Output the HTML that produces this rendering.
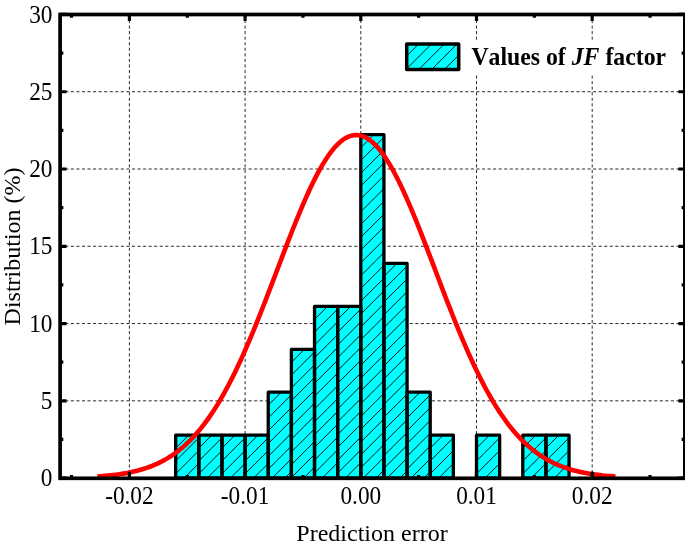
<!DOCTYPE html><html><head><meta charset="utf-8"><style>html,body{margin:0;padding:0;background:#fff;overflow:hidden}svg{display:block;will-change:transform}text{font-family:"Liberation Serif",serif;font-kerning:none}</style></head><body><svg width="685" height="549" viewBox="0 0 685 549"><rect width="685" height="549" fill="#fff"/><defs><clipPath id="bc"><rect x="175.68" y="435.14" width="23.14" height="42.96"/><rect x="198.82" y="435.14" width="23.14" height="42.96"/><rect x="221.96" y="435.14" width="23.14" height="42.96"/><rect x="245.1" y="435.14" width="23.14" height="42.96"/><rect x="268.24" y="392.17" width="23.14" height="85.93"/><rect x="291.38" y="349.36" width="23.14" height="128.74"/><rect x="314.52" y="306.39" width="23.14" height="171.71"/><rect x="337.66" y="306.39" width="23.14" height="171.71"/><rect x="360.8" y="134.69" width="23.14" height="343.41"/><rect x="383.94" y="263.43" width="23.14" height="214.67"/><rect x="407.08" y="392.17" width="23.14" height="85.93"/><rect x="430.22" y="435.14" width="23.14" height="42.96"/><rect x="476.5" y="435.14" width="23.14" height="42.96"/><rect x="522.78" y="435.14" width="23.14" height="42.96"/><rect x="545.92" y="435.14" width="23.14" height="42.96"/></clipPath><clipPath id="lc"><rect x="406.7" y="44" width="52" height="25.5"/></clipPath></defs><path d="M129.4 14.4V478.3M245.1 14.4V478.3M360.8 14.4V478.3M476.5 14.4V478.3M592.2 14.4V478.3M59.7 400.83H684.85M59.7 323.55H684.85M59.7 246.28H684.85M59.7 169H684.85M59.7 91.73H684.85" stroke="#2a2a2a" stroke-width="1" stroke-dasharray="3.1 2.456" fill="none"/><rect x="175.68" y="435.14" width="23.14" height="42.96" fill="#0ff"/><rect x="198.82" y="435.14" width="23.14" height="42.96" fill="#0ff"/><rect x="221.96" y="435.14" width="23.14" height="42.96" fill="#0ff"/><rect x="245.1" y="435.14" width="23.14" height="42.96" fill="#0ff"/><rect x="268.24" y="392.17" width="23.14" height="85.93" fill="#0ff"/><rect x="291.38" y="349.36" width="23.14" height="128.74" fill="#0ff"/><rect x="314.52" y="306.39" width="23.14" height="171.71" fill="#0ff"/><rect x="337.66" y="306.39" width="23.14" height="171.71" fill="#0ff"/><rect x="360.8" y="134.69" width="23.14" height="343.41" fill="#0ff"/><rect x="383.94" y="263.43" width="23.14" height="214.67" fill="#0ff"/><rect x="407.08" y="392.17" width="23.14" height="85.93" fill="#0ff"/><rect x="430.22" y="435.14" width="23.14" height="42.96" fill="#0ff"/><rect x="476.5" y="435.14" width="23.14" height="42.96" fill="#0ff"/><rect x="522.78" y="435.14" width="23.14" height="42.96" fill="#0ff"/><rect x="545.92" y="435.14" width="23.14" height="42.96" fill="#0ff"/><clipPath id="c0"><rect x="175.68" y="435.14" width="23.14" height="42.96"/></clipPath><path d="M173.68 424.54L200.82 397.4M173.68 437.34L200.82 410.2M173.68 450.14L200.82 423M173.68 462.94L200.82 435.8M173.68 475.74L200.82 448.6M173.68 488.54L200.82 461.4M173.68 501.34L200.82 474.2M173.68 514.14L200.82 487" stroke="#000" stroke-width="0.95" fill="none" clip-path="url(#c0)"/><clipPath id="c1"><rect x="198.82" y="435.14" width="23.14" height="42.96"/></clipPath><path d="M196.82 424.54L223.96 397.4M196.82 437.34L223.96 410.2M196.82 450.14L223.96 423M196.82 462.94L223.96 435.8M196.82 475.74L223.96 448.6M196.82 488.54L223.96 461.4M196.82 501.34L223.96 474.2M196.82 514.14L223.96 487" stroke="#000" stroke-width="0.95" fill="none" clip-path="url(#c1)"/><clipPath id="c2"><rect x="221.96" y="435.14" width="23.14" height="42.96"/></clipPath><path d="M219.96 424.54L247.1 397.4M219.96 437.34L247.1 410.2M219.96 450.14L247.1 423M219.96 462.94L247.1 435.8M219.96 475.74L247.1 448.6M219.96 488.54L247.1 461.4M219.96 501.34L247.1 474.2M219.96 514.14L247.1 487" stroke="#000" stroke-width="0.95" fill="none" clip-path="url(#c2)"/><clipPath id="c3"><rect x="245.1" y="435.14" width="23.14" height="42.96"/></clipPath><path d="M243.1 424.54L270.24 397.4M243.1 437.34L270.24 410.2M243.1 450.14L270.24 423M243.1 462.94L270.24 435.8M243.1 475.74L270.24 448.6M243.1 488.54L270.24 461.4M243.1 501.34L270.24 474.2M243.1 514.14L270.24 487" stroke="#000" stroke-width="0.95" fill="none" clip-path="url(#c3)"/><clipPath id="c4"><rect x="268.24" y="392.17" width="23.14" height="85.93"/></clipPath><path d="M266.24 381.57L293.38 354.43M266.24 394.37L293.38 367.23M266.24 407.17L293.38 380.03M266.24 419.97L293.38 392.83M266.24 432.77L293.38 405.63M266.24 445.57L293.38 418.43M266.24 458.37L293.38 431.23M266.24 471.17L293.38 444.03M266.24 483.97L293.38 456.83M266.24 496.77L293.38 469.63M266.24 509.57L293.38 482.43" stroke="#000" stroke-width="0.95" fill="none" clip-path="url(#c4)"/><clipPath id="c5"><rect x="291.38" y="349.36" width="23.14" height="128.74"/></clipPath><path d="M289.38 338.76L316.52 311.62M289.38 351.56L316.52 324.42M289.38 364.36L316.52 337.22M289.38 377.16L316.52 350.02M289.38 389.96L316.52 362.82M289.38 402.76L316.52 375.62M289.38 415.56L316.52 388.42M289.38 428.36L316.52 401.22M289.38 441.16L316.52 414.02M289.38 453.96L316.52 426.82M289.38 466.76L316.52 439.62M289.38 479.56L316.52 452.42M289.38 492.36L316.52 465.22M289.38 505.16L316.52 478.02" stroke="#000" stroke-width="0.95" fill="none" clip-path="url(#c5)"/><clipPath id="c6"><rect x="314.52" y="306.39" width="23.14" height="171.71"/></clipPath><path d="M312.52 295.79L339.66 268.65M312.52 308.59L339.66 281.45M312.52 321.39L339.66 294.25M312.52 334.19L339.66 307.05M312.52 346.99L339.66 319.85M312.52 359.79L339.66 332.65M312.52 372.59L339.66 345.45M312.52 385.39L339.66 358.25M312.52 398.19L339.66 371.05M312.52 410.99L339.66 383.85M312.52 423.79L339.66 396.65M312.52 436.59L339.66 409.45M312.52 449.39L339.66 422.25M312.52 462.19L339.66 435.05M312.52 474.99L339.66 447.85M312.52 487.79L339.66 460.65M312.52 500.59L339.66 473.45M312.52 513.39L339.66 486.25" stroke="#000" stroke-width="0.95" fill="none" clip-path="url(#c6)"/><clipPath id="c7"><rect x="337.66" y="306.39" width="23.14" height="171.71"/></clipPath><path d="M335.66 295.79L362.8 268.65M335.66 308.59L362.8 281.45M335.66 321.39L362.8 294.25M335.66 334.19L362.8 307.05M335.66 346.99L362.8 319.85M335.66 359.79L362.8 332.65M335.66 372.59L362.8 345.45M335.66 385.39L362.8 358.25M335.66 398.19L362.8 371.05M335.66 410.99L362.8 383.85M335.66 423.79L362.8 396.65M335.66 436.59L362.8 409.45M335.66 449.39L362.8 422.25M335.66 462.19L362.8 435.05M335.66 474.99L362.8 447.85M335.66 487.79L362.8 460.65M335.66 500.59L362.8 473.45M335.66 513.39L362.8 486.25" stroke="#000" stroke-width="0.95" fill="none" clip-path="url(#c7)"/><clipPath id="c8"><rect x="360.8" y="134.69" width="23.14" height="343.41"/></clipPath><path d="M358.8 124.09L385.94 96.95M358.8 136.89L385.94 109.75M358.8 149.69L385.94 122.55M358.8 162.49L385.94 135.35M358.8 175.29L385.94 148.15M358.8 188.09L385.94 160.95M358.8 200.89L385.94 173.75M358.8 213.69L385.94 186.55M358.8 226.49L385.94 199.35M358.8 239.29L385.94 212.15M358.8 252.09L385.94 224.95M358.8 264.89L385.94 237.75M358.8 277.69L385.94 250.55M358.8 290.49L385.94 263.35M358.8 303.29L385.94 276.15M358.8 316.09L385.94 288.95M358.8 328.89L385.94 301.75M358.8 341.69L385.94 314.55M358.8 354.49L385.94 327.35M358.8 367.29L385.94 340.15M358.8 380.09L385.94 352.95M358.8 392.89L385.94 365.75M358.8 405.69L385.94 378.55M358.8 418.49L385.94 391.35M358.8 431.29L385.94 404.15M358.8 444.09L385.94 416.95M358.8 456.89L385.94 429.75M358.8 469.69L385.94 442.55M358.8 482.49L385.94 455.35M358.8 495.29L385.94 468.15M358.8 508.09L385.94 480.95" stroke="#000" stroke-width="0.95" fill="none" clip-path="url(#c8)"/><clipPath id="c9"><rect x="383.94" y="263.43" width="23.14" height="214.67"/></clipPath><path d="M381.94 252.83L409.08 225.69M381.94 265.63L409.08 238.49M381.94 278.43L409.08 251.29M381.94 291.23L409.08 264.09M381.94 304.03L409.08 276.89M381.94 316.83L409.08 289.69M381.94 329.63L409.08 302.49M381.94 342.43L409.08 315.29M381.94 355.23L409.08 328.09M381.94 368.03L409.08 340.89M381.94 380.83L409.08 353.69M381.94 393.63L409.08 366.49M381.94 406.43L409.08 379.29M381.94 419.23L409.08 392.09M381.94 432.03L409.08 404.89M381.94 444.83L409.08 417.69M381.94 457.63L409.08 430.49M381.94 470.43L409.08 443.29M381.94 483.23L409.08 456.09M381.94 496.03L409.08 468.89M381.94 508.83L409.08 481.69" stroke="#000" stroke-width="0.95" fill="none" clip-path="url(#c9)"/><clipPath id="c10"><rect x="407.08" y="392.17" width="23.14" height="85.93"/></clipPath><path d="M405.08 381.57L432.22 354.43M405.08 394.37L432.22 367.23M405.08 407.17L432.22 380.03M405.08 419.97L432.22 392.83M405.08 432.77L432.22 405.63M405.08 445.57L432.22 418.43M405.08 458.37L432.22 431.23M405.08 471.17L432.22 444.03M405.08 483.97L432.22 456.83M405.08 496.77L432.22 469.63M405.08 509.57L432.22 482.43" stroke="#000" stroke-width="0.95" fill="none" clip-path="url(#c10)"/><clipPath id="c11"><rect x="430.22" y="435.14" width="23.14" height="42.96"/></clipPath><path d="M428.22 424.54L455.36 397.4M428.22 437.34L455.36 410.2M428.22 450.14L455.36 423M428.22 462.94L455.36 435.8M428.22 475.74L455.36 448.6M428.22 488.54L455.36 461.4M428.22 501.34L455.36 474.2M428.22 514.14L455.36 487" stroke="#000" stroke-width="0.95" fill="none" clip-path="url(#c11)"/><clipPath id="c12"><rect x="476.5" y="435.14" width="23.14" height="42.96"/></clipPath><path d="M474.5 424.54L501.64 397.4M474.5 437.34L501.64 410.2M474.5 450.14L501.64 423M474.5 462.94L501.64 435.8M474.5 475.74L501.64 448.6M474.5 488.54L501.64 461.4M474.5 501.34L501.64 474.2M474.5 514.14L501.64 487" stroke="#000" stroke-width="0.95" fill="none" clip-path="url(#c12)"/><clipPath id="c13"><rect x="522.78" y="435.14" width="23.14" height="42.96"/></clipPath><path d="M520.78 424.54L547.92 397.4M520.78 437.34L547.92 410.2M520.78 450.14L547.92 423M520.78 462.94L547.92 435.8M520.78 475.74L547.92 448.6M520.78 488.54L547.92 461.4M520.78 501.34L547.92 474.2M520.78 514.14L547.92 487" stroke="#000" stroke-width="0.95" fill="none" clip-path="url(#c13)"/><clipPath id="c14"><rect x="545.92" y="435.14" width="23.14" height="42.96"/></clipPath><path d="M543.92 424.54L571.06 397.4M543.92 437.34L571.06 410.2M543.92 450.14L571.06 423M543.92 462.94L571.06 435.8M543.92 475.74L571.06 448.6M543.92 488.54L571.06 461.4M543.92 501.34L571.06 474.2M543.92 514.14L571.06 487" stroke="#000" stroke-width="0.95" fill="none" clip-path="url(#c14)"/><rect x="175.68" y="435.14" width="23.14" height="42.96" fill="none" stroke="#000" stroke-width="3.3" stroke-linejoin="round"/><rect x="198.82" y="435.14" width="23.14" height="42.96" fill="none" stroke="#000" stroke-width="3.3" stroke-linejoin="round"/><rect x="221.96" y="435.14" width="23.14" height="42.96" fill="none" stroke="#000" stroke-width="3.3" stroke-linejoin="round"/><rect x="245.1" y="435.14" width="23.14" height="42.96" fill="none" stroke="#000" stroke-width="3.3" stroke-linejoin="round"/><rect x="268.24" y="392.17" width="23.14" height="85.93" fill="none" stroke="#000" stroke-width="3.3" stroke-linejoin="round"/><rect x="291.38" y="349.36" width="23.14" height="128.74" fill="none" stroke="#000" stroke-width="3.3" stroke-linejoin="round"/><rect x="314.52" y="306.39" width="23.14" height="171.71" fill="none" stroke="#000" stroke-width="3.3" stroke-linejoin="round"/><rect x="337.66" y="306.39" width="23.14" height="171.71" fill="none" stroke="#000" stroke-width="3.3" stroke-linejoin="round"/><rect x="360.8" y="134.69" width="23.14" height="343.41" fill="none" stroke="#000" stroke-width="3.3" stroke-linejoin="round"/><rect x="383.94" y="263.43" width="23.14" height="214.67" fill="none" stroke="#000" stroke-width="3.3" stroke-linejoin="round"/><rect x="407.08" y="392.17" width="23.14" height="85.93" fill="none" stroke="#000" stroke-width="3.3" stroke-linejoin="round"/><rect x="430.22" y="435.14" width="23.14" height="42.96" fill="none" stroke="#000" stroke-width="3.3" stroke-linejoin="round"/><rect x="476.5" y="435.14" width="23.14" height="42.96" fill="none" stroke="#000" stroke-width="3.3" stroke-linejoin="round"/><rect x="522.78" y="435.14" width="23.14" height="42.96" fill="none" stroke="#000" stroke-width="3.3" stroke-linejoin="round"/><rect x="545.92" y="435.14" width="23.14" height="42.96" fill="none" stroke="#000" stroke-width="3.3" stroke-linejoin="round"/><polyline points="97.35,476.49 99.94,476.31 102.53,476.11 105.12,475.89 107.71,475.65 110.3,475.39 112.89,475.1 115.48,474.78 118.08,474.43 120.67,474.06 123.26,473.64 125.85,473.19 128.44,472.71 131.03,472.17 133.62,471.6 136.21,470.97 138.8,470.3 141.39,469.56 143.98,468.77 146.57,467.92 149.16,467 151.75,466.01 154.34,464.95 156.93,463.81 159.52,462.59 162.11,461.28 164.7,459.88 167.3,458.38 169.89,456.78 172.48,455.08 175.07,453.28 177.66,451.35 180.25,449.31 182.84,447.15 185.43,444.86 188.02,442.44 190.61,439.88 193.2,437.19 195.79,434.35 198.38,431.37 200.97,428.23 203.56,424.94 206.15,421.5 208.74,417.9 211.33,414.13 213.92,410.21 216.52,406.12 219.11,401.87 221.7,397.45 224.29,392.87 226.88,388.13 229.47,383.22 232.06,378.15 234.65,372.93 237.24,367.55 239.83,362.02 242.42,356.35 245.01,350.53 247.6,344.59 250.19,338.51 252.78,332.31 255.37,326.01 257.96,319.6 260.55,313.1 263.14,306.51 265.74,299.86 268.33,293.14 270.92,286.38 273.51,279.58 276.1,272.77 278.69,265.95 281.28,259.13 283.87,252.35 286.46,245.6 289.05,238.9 291.64,232.28 294.23,225.75 296.82,219.32 299.41,213.01 302,206.84 304.59,200.82 307.18,194.98 309.77,189.32 312.36,183.87 314.96,178.63 317.55,173.63 320.14,168.88 322.73,164.39 325.32,160.18 327.91,156.26 330.5,152.64 333.09,149.33 335.68,146.34 338.27,143.69 340.86,141.38 343.45,139.42 346.04,137.81 348.63,136.56 351.22,135.67 353.81,135.15 356.4,135 358.99,135.22 361.58,135.8 364.17,136.75 366.77,138.07 369.36,139.74 371.95,141.77 374.54,144.14 377.13,146.85 379.72,149.9 382.31,153.26 384.9,156.94 387.49,160.91 390.08,165.17 392.67,169.71 395.26,174.51 397.85,179.55 400.44,184.83 403.03,190.32 405.62,196.01 408.21,201.89 410.8,207.93 413.39,214.13 415.99,220.46 418.58,226.91 421.17,233.46 423.76,240.09 426.35,246.8 428.94,253.56 431.53,260.35 434.12,267.17 436.71,273.99 439.3,280.8 441.89,287.59 444.48,294.34 447.07,301.05 449.66,307.69 452.25,314.26 454.84,320.75 457.43,327.14 460.02,333.43 462.61,339.6 465.21,345.66 467.8,351.58 470.39,357.37 472.98,363.02 475.57,368.52 478.16,373.87 480.75,379.07 483.34,384.11 485.93,388.99 488.52,393.7 491.11,398.25 493.7,402.64 496.29,406.86 498.88,410.92 501.47,414.82 504.06,418.55 506.65,422.13 509.24,425.54 511.83,428.8 514.43,431.91 517.02,434.87 519.61,437.68 522.2,440.35 524.79,442.88 527.38,445.28 529.97,447.54 532.56,449.69 535.15,451.7 537.74,453.61 540.33,455.4 542.92,457.08 545.51,458.65 548.1,460.13 550.69,461.52 553.28,462.81 555.87,464.02 558.46,465.15 561.05,466.19 563.65,467.17 566.24,468.08 568.83,468.92 571.42,469.7 574.01,470.42 576.6,471.09 579.19,471.7 581.78,472.27 584.37,472.8 586.96,473.28 589.55,473.72 592.14,474.13 594.73,474.5 597.32,474.84 599.91,475.15 602.5,475.44 605.09,475.7 607.68,475.93 610.27,476.15 612.87,476.35 615.46,476.52" fill="none" stroke="#f00" stroke-width="4.6" stroke-linejoin="round"/><path d="M71.55 478.3V475.05M71.55 14.5V17.75M129.4 478.3V471.85M129.4 14.5V20.95M187.25 478.3V475.05M187.25 14.5V17.75M245.1 478.3V471.85M245.1 14.5V20.95M302.95 478.3V475.05M302.95 14.5V17.75M360.8 478.3V471.85M360.8 14.5V20.95M418.65 478.3V475.05M418.65 14.5V17.75M476.5 478.3V471.85M476.5 14.5V20.95M534.35 478.3V475.05M534.35 14.5V17.75M592.2 478.3V471.85M592.2 14.5V20.95M650.05 478.3V475.05M650.05 14.5V17.75M60.1 478.1H66.55M684.85 478.1H678.4M60.1 439.46H63.35M684.85 439.46H681.6M60.1 400.83H66.55M684.85 400.83H678.4M60.1 362.19H63.35M684.85 362.19H681.6M60.1 323.55H66.55M684.85 323.55H678.4M60.1 284.91H63.35M684.85 284.91H681.6M60.1 246.28H66.55M684.85 246.28H678.4M60.1 207.64H63.35M684.85 207.64H681.6M60.1 169H66.55M684.85 169H678.4M60.1 130.36H63.35M684.85 130.36H681.6M60.1 91.73H66.55M684.85 91.73H678.4M60.1 53.09H63.35M684.85 53.09H681.6M60.1 14.45H66.55M684.85 14.45H678.4" stroke="#000" stroke-width="3.2" fill="none"/><rect x="60.1" y="14.5" width="624.75" height="463.8" fill="none" stroke="#000" stroke-width="3.7"/><text transform="translate(52.4 486.2) scale(0.97 1.06)" font-size="24" text-anchor="end">0</text><text transform="translate(52.4 408.93) scale(0.97 1.06)" font-size="24" text-anchor="end">5</text><text transform="translate(52.4 331.65) scale(0.97 1.06)" font-size="24" text-anchor="end">10</text><text transform="translate(52.4 254.38) scale(0.97 1.06)" font-size="24" text-anchor="end">15</text><text transform="translate(52.4 177.1) scale(0.97 1.06)" font-size="24" text-anchor="end">20</text><text transform="translate(52.4 99.83) scale(0.97 1.06)" font-size="24" text-anchor="end">25</text><text transform="translate(52.4 22.55) scale(0.97 1.06)" font-size="24" text-anchor="end">30</text><text transform="translate(129.4 504.4) scale(0.97 1.06)" font-size="24" text-anchor="middle">-0.02</text><text transform="translate(245.1 504.4) scale(0.97 1.06)" font-size="24" text-anchor="middle">-0.01</text><text transform="translate(360.8 504.4) scale(0.97 1.06)" font-size="24" text-anchor="middle">0.00</text><text transform="translate(476.5 504.4) scale(0.97 1.06)" font-size="24" text-anchor="middle">0.01</text><text transform="translate(592.2 504.4) scale(0.97 1.06)" font-size="24" text-anchor="middle">0.02</text><text transform="translate(372 541.0) scale(1 1.0)" font-size="24" text-anchor="middle">Prediction error</text><text transform="translate(20.3 246.4) rotate(-90)" font-size="24" text-anchor="middle">Distribution (%)</text><rect x="400" y="40" width="280" height="35" fill="#fff"/><rect x="406.7" y="44" width="52" height="25.5" fill="#0ff"/><path d="M400 37.1L470 -32.9M400 49.9L470 -20.1M400 62.7L470 -7.3M400 75.5L470 5.5M400 88.3L470 18.3M400 101.1L470 31.1M400 113.9L470 43.9M400 126.7L470 56.7M400 139.5L470 69.5M400 152.3L470 82.3M400 165.1L470 95.1M400 177.9L470 107.9" stroke="#000" stroke-width="0.95" fill="none" clip-path="url(#lc)"/><rect x="406.7" y="44" width="52" height="25.5" fill="none" stroke="#000" stroke-width="3.5" stroke-linejoin="round"/><text transform="translate(471.4 65.1) scale(0.99 1.005)" font-size="24" font-weight="bold">Values of <tspan font-style="italic">JF</tspan> factor</text></svg></body></html>
